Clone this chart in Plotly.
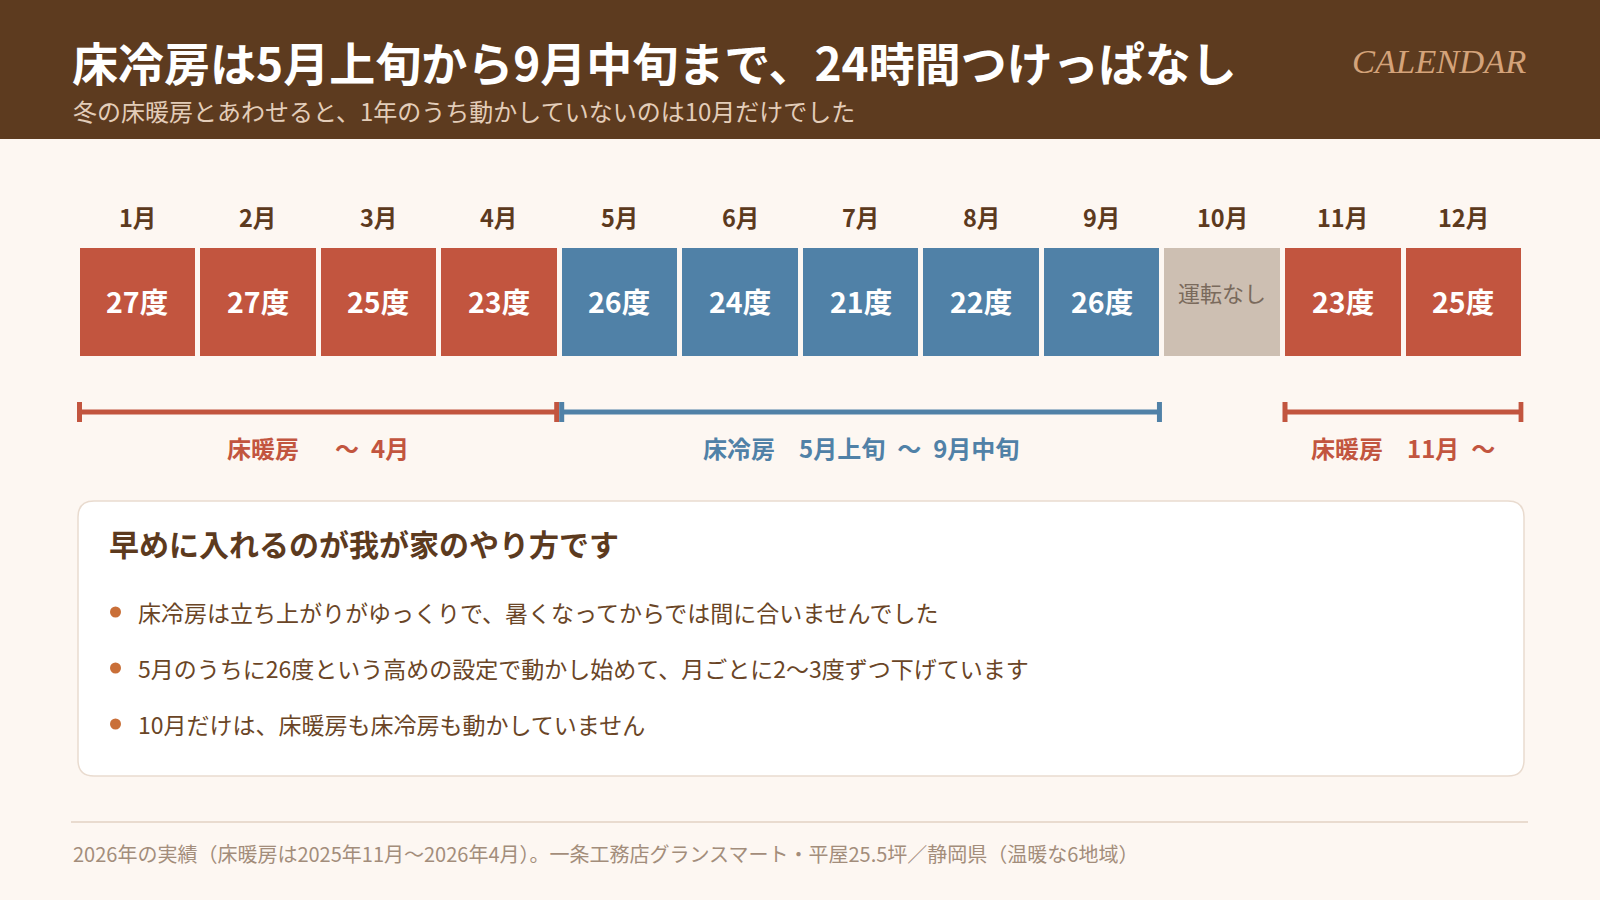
import plotly.graph_objects as go

# ---------------- data ----------------
months = ["1月", "2月", "3月", "4月", "5月", "6月", "7月", "8月", "9月", "10月", "11月", "12月"]
temps = [27, 27, 25, 23, 26, 24, 21, 22, 26, None, 23, 25]
modes = ["heat", "heat", "heat", "heat", "cool", "cool", "cool", "cool", "cool", "off", "heat", "heat"]
off_label = "運転なし"

# periods: (mode, first month index, last month index, label)
period_modes = ["heat", "cool", "heat"]
period_start = [0, 4, 10]
period_end = [3, 8, 11]
period_labels = ["床暖房\u3000\u2002～\u20024月", "床冷房\u30005月上旬\u2002～\u20029月中旬", "床暖房\u300011月\u2002～"]

title = "床冷房は5月上旬から9月中旬まで、24時間つけっぱなし"
subtitle = "冬の床暖房とあわせると、1年のうち動かしていないのは10月だけでした"
tag = "CALENDAR"
card_title = "早めに入れるのが我が家のやり方です"
bullets = [
    "床冷房は立ち上がりがゆっくりで、暑くなってからでは間に合いませんでした",
    "5月のうちに26度という高めの設定で動かし始めて、月ごとに2〜3度ずつ下げています",
    "10月だけは、床暖房も床冷房も動かしていません",
]
footer = "2026年の実績（床暖房は2025年11月〜2026年4月）。一条工務店グランスマート・平屋25.5坪／静岡県（温暖な6地域）"

# ---------------- style ----------------
W, H = 1600, 900
BG = "#fdf7f2"
HEADER = "#5d3b1f"
BROWN = "#5c3a1e"
RED = "#c2553f"
BLUE = "#5081a7"
GRAY = "#cdbfb2"
GRAY_TXT = "#7a6a5c"
BORDER = "#e9dbcf"
FONT = "Noto Sans CJK JP"
mode_color = {"heat": RED, "cool": BLUE, "off": GRAY}

BOX_TOP, BOX_H = 248, 108
BAR_W = 0.9585
LINE_Y, CAP_H = 412, 20

fig = go.Figure()

# month boxes
fig.add_trace(go.Bar(
    x=list(range(len(months))),
    y=[BOX_H] * len(months),
    base=[BOX_TOP] * len(months),
    width=BAR_W,
    marker=dict(color=[mode_color[m] for m in modes], line=dict(width=0)),
    hoverinfo="skip",
    showlegend=False,
))

# period range lines with end caps
half = BAR_W / 2
for pm, s, e in zip(period_modes, period_start, period_end):
    x0, x1 = s - half, e + half
    fig.add_trace(go.Scatter(
        x=[x0, x1, None, x0, x0, None, x1, x1],
        y=[LINE_Y, LINE_Y, None, LINE_Y - CAP_H / 2, LINE_Y + CAP_H / 2, None,
           LINE_Y - CAP_H / 2, LINE_Y + CAP_H / 2],
        mode="lines",
        line=dict(color=mode_color[pm], width=5),
        hoverinfo="skip",
        showlegend=False,
    ))

shapes = []
annotations = []

# header band
shapes.append(dict(type="rect", xref="paper", yref="y", x0=0, x1=1, y0=0, y1=139,
                   fillcolor=HEADER, line=dict(width=0), layer="below"))

def px(x):
    return x / W

annotations.append(dict(xref="paper", yref="y", x=px(70), y=61, xanchor="left", yanchor="middle",
                        text=f"<b>{title}</b>", showarrow=False,
                        font=dict(family=FONT, size=46, color="#ffffff")))
annotations.append(dict(xref="paper", yref="y", x=px(71), y=110, xanchor="left", yanchor="middle",
                        text=subtitle, showarrow=False,
                        font=dict(family=FONT, size=24, color="#e3cdb9")))
annotations.append(dict(xref="paper", yref="y", x=px(1528), y=61, xanchor="right", yanchor="middle",
                        text=f"<i>{tag}</i>", showarrow=False,
                        font=dict(family="Liberation Serif", size=34.5, color="#d4a37a")))

# month labels and values
for i, (m, t, md) in enumerate(zip(months, temps, modes)):
    annotations.append(dict(xref="x", yref="y", x=i, y=217, text=f"<b>{m}</b>", showarrow=False,
                            xanchor="center", yanchor="middle",
                            font=dict(family=FONT, size=23.5, color=BROWN)))
    if t is None:
        annotations.append(dict(xref="x", yref="y", x=i, y=292, text=off_label, showarrow=False,
                                xanchor="center", yanchor="middle",
                                font=dict(family=FONT, size=22, color=GRAY_TXT)))
    else:
        annotations.append(dict(xref="x", yref="y", x=i, y=300, text=f"<b>{t}度</b>", showarrow=False,
                                xanchor="center", yanchor="middle",
                                font=dict(family=FONT, size=28.5, color="#ffffff")))

# period labels
for pm, s, e, lab in zip(period_modes, period_start, period_end, period_labels):
    annotations.append(dict(xref="x", yref="y", x=(s + e) / 2, y=447, text=f"<b>{lab}</b>",
                            showarrow=False, xanchor="center", yanchor="middle",
                            font=dict(family=FONT, size=24, color=mode_color[pm])))

# card (rounded rectangle)
cx0, cx1, cy0, cy1, r = 78, 1524, 501, 776, 16
path = (f"M {px(cx0 + r)},{cy0} L {px(cx1 - r)},{cy0} Q {px(cx1)},{cy0} {px(cx1)},{cy0 + r} "
        f"L {px(cx1)},{cy1 - r} Q {px(cx1)},{cy1} {px(cx1 - r)},{cy1} "
        f"L {px(cx0 + r)},{cy1} Q {px(cx0)},{cy1} {px(cx0)},{cy1 - r} "
        f"L {px(cx0)},{cy0 + r} Q {px(cx0)},{cy0} {px(cx0 + r)},{cy0} Z")
shapes.append(dict(type="path", xref="paper", yref="y", path=path, fillcolor="#ffffff",
                   line=dict(color=BORDER, width=1.5), layer="below"))

annotations.append(dict(xref="paper", yref="y", x=px(107), y=543, xanchor="left", yanchor="middle",
                        text=f"<b>{card_title}</b>", showarrow=False,
                        font=dict(family=FONT, size=30, color=BROWN)))
for k, b in enumerate(bullets):
    yy = 612 + k * 56
    shapes.append(dict(type="circle", xref="paper", yref="y", x0=px(110), x1=px(121),
                       y0=yy - 5.5, y1=yy + 5.5, fillcolor="#c96f38", line=dict(width=0)))
    annotations.append(dict(xref="paper", yref="y", x=px(136), y=yy, xanchor="left", yanchor="middle",
                            text=b, showarrow=False,
                            font=dict(family=FONT, size=23, color="#6a4526")))

# footer
shapes.append(dict(type="line", xref="paper", yref="y", x0=px(71), x1=px(1528), y0=822, y1=822,
                   line=dict(color=BORDER, width=2)))
annotations.append(dict(xref="paper", yref="y", x=px(71), y=853, xanchor="left", yanchor="middle",
                        text=footer, showarrow=False,
                        font=dict(family=FONT, size=20, color="#a38d7b")))

fig.update_layout(
    width=W, height=H,
    margin=dict(l=0, r=0, t=0, b=0),
    paper_bgcolor=BG, plot_bgcolor=BG,
    xaxis=dict(range=[-0.5, 11.5], domain=[77 / W, 1523.6 / W], visible=False, fixedrange=True),
    yaxis=dict(range=[H, 0], domain=[0, 1], visible=False, fixedrange=True),
    shapes=shapes,
    annotations=annotations,
    bargap=0,
    showlegend=False,
)

fig.write_html("out.html", config={"displayModeBar": False},
               post_script="document.body.style.margin='0';document.body.style.background='" + BG + "';")
